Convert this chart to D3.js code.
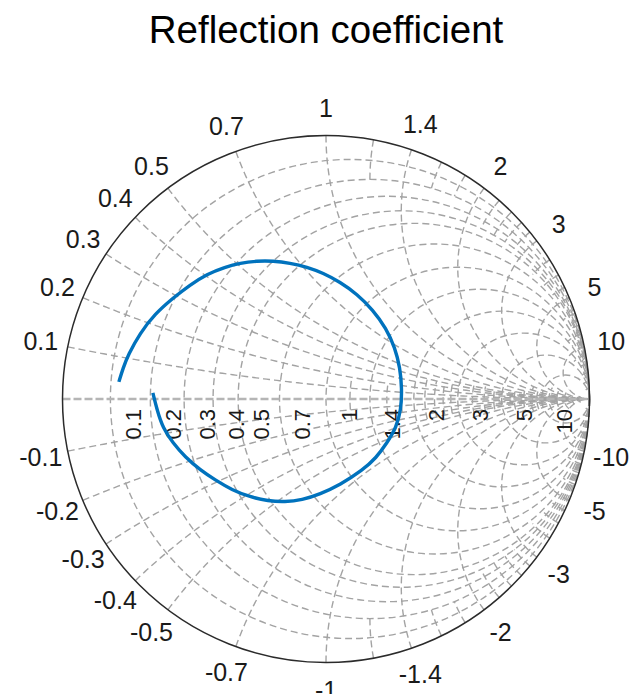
<!DOCTYPE html>
<html><head><meta charset="utf-8">
<script src="https://cdn.jsdelivr.net/npm/d3@7"></script>
<style>html,body{margin:0;padding:0;background:#fff;}</style>
</head><body>
<svg id="chart" width="634" height="694"></svg>
<script>
const chartTitle = "Reflection coefficient";
const gammaRe = [-0.786,-0.770,-0.751,-0.706,-0.649,-0.581,-0.516,-0.452,-0.383,-0.326,-0.262,-0.201,-0.137,-0.072,-0.011,0.053,0.118,0.178,0.228,0.262,0.281,0.288,0.285,0.266,0.231,0.190,0.140,0.053,-0.023,-0.091,-0.156,-0.220,-0.288,-0.357,-0.421,-0.478,-0.535,-0.581,-0.619,-0.641,-0.657];
const gammaIm = [0.065,0.118,0.167,0.250,0.323,0.383,0.433,0.474,0.501,0.516,0.524,0.524,0.516,0.501,0.478,0.444,0.398,0.338,0.269,0.194,0.118,0.042,-0.042,-0.110,-0.167,-0.224,-0.269,-0.326,-0.361,-0.383,-0.391,-0.387,-0.372,-0.345,-0.307,-0.269,-0.220,-0.167,-0.110,-0.042,0.023];
// Grid values and labels
const mainValues = [0.1,0.2,0.3,0.4,0.5,0.7,1,1.4,2,3,5,10];
const tickLabels = ["0.1","0.2","0.3","0.4","0.5","0.7","1","1.4","2","3","5","10"];
const fineValues = [1.2,1.6,1.8,2.2,2.4,2.6,2.8,3.5,4,4.5,6,7,8,9,12,15,20,30,50];
const fineLimits = [0.2,0.2,0.2,0.4,0.4,0.4,0.4,0.6,0.6,0.6,1,1,2,2,4,4,10,10,20];

const cx = 326, cy = 399, R = 263.5;
const svg = d3.select("#chart");
const xs = d3.scaleLinear().domain([-1, 1]).range([cx - R, cx + R]);
const ys = d3.scaleLinear().domain([-1, 1]).range([cy + R, cy - R]);
const line = d3.line().x(d => xs(d[0])).y(d => ys(d[1]));

function gamma(r, x) {
  const den = (r + 1) * (r + 1) + x * x;
  return [(r * r + x * x - 1) / den, (2 * x) / den];
}

const gridColor = "#a3a3a3";
const gGrid = svg.append("g").attr("fill", "none").attr("stroke", gridColor)
  .attr("stroke-width", 1.4).attr("stroke-dasharray", "7,4");

// main resistance circles (full)
mainValues.forEach(r => {
  gGrid.append("circle")
    .attr("cx", xs(r / (1 + r))).attr("cy", ys(0))
    .attr("r", xs(1 / (1 + r)) - xs(0));
});
function reactArc(x, lim) {
  const pts = [];
  if (lim === Infinity) {
    for (let i = 0; i < 200; i++) { const t = i / 200; pts.push(gamma(t / (1 - t), x)); }
    pts.push([1, 0]);
  } else {
    for (let i = 0; i <= 60; i++) pts.push(gamma(lim * i / 60, x));
  }
  return pts;
}
function resArc(r, lim) {
  const pts = [];
  for (let i = 0; i <= 60; i++) pts.push(gamma(r, -lim + 2 * lim * i / 60));
  return pts;
}
// main reactance arcs (full)
mainValues.forEach(x => {
  [1, -1].forEach(s => gGrid.append("path").attr("d", line(reactArc(s * x, Infinity))));
});
// fine grid pieces near the right edge
fineValues.forEach((v, i) => {
  const lim = fineLimits[i];
  gGrid.append("path").attr("d", line(resArc(v, lim)));
  [1, -1].forEach(s => gGrid.append("path").attr("d", line(reactArc(s * v, lim))));
});

// real axis
svg.append("line").attr("x1", xs(-1)).attr("x2", xs(1)).attr("y1", ys(0)).attr("y2", ys(0))
  .attr("stroke", "#b5b5b5").attr("stroke-width", 2.4).attr("stroke-dasharray", "8,3");

// outer circle
svg.append("circle").attr("cx", xs(0)).attr("cy", ys(0)).attr("r", xs(1) - xs(0))
  .attr("fill", "none").attr("stroke", "#2b2b2b").attr("stroke-width", 1.5);

// outer reactance labels
const gLab = svg.append("g").attr("font-family", "'Liberation Sans', Arial, sans-serif").attr("fill", "#1a1a1a");
mainValues.forEach((v, i) => {
  [1, -1].forEach(s => {
    const g = gamma(0, s * v);
    const k = 1.104;
    gLab.append("text").attr("x", xs(g[0] * k)).attr("y", ys(g[1] * k))
      .attr("text-anchor", "middle").attr("dominant-baseline", "central")
      .attr("font-size", 25).text((s < 0 ? "-" : "") + tickLabels[i]);
  });
});
// resistance labels along the real axis
mainValues.forEach((v, i) => {
  const g = gamma(v, 0);
  const px = xs(g[0]) + 23, py = ys(0) + 10;
  gLab.append("text").attr("x", px).attr("y", py)
    .attr("transform", `rotate(-90 ${px} ${py})`)
    .attr("text-anchor", "end").attr("dominant-baseline", "central")
    .attr("font-size", 22).text(tickLabels[i]);
});

// data curve
const pts = gammaRe.map((re, i) => [re, gammaIm[i]]);
svg.append("path").attr("d", d3.line().x(d => xs(d[0])).y(d => ys(d[1])).curve(d3.curveBasis)(pts))
  .attr("fill", "none").attr("stroke", "#0072BD").attr("stroke-width", 3.4);

// title
svg.append("text").attr("x", 326).attr("y", 43).attr("text-anchor", "middle")
  .attr("font-family", "'Liberation Sans', Arial, sans-serif").attr("font-size", 38.5)
  .attr("fill", "#000").text(chartTitle);
</script>
</body></html>
